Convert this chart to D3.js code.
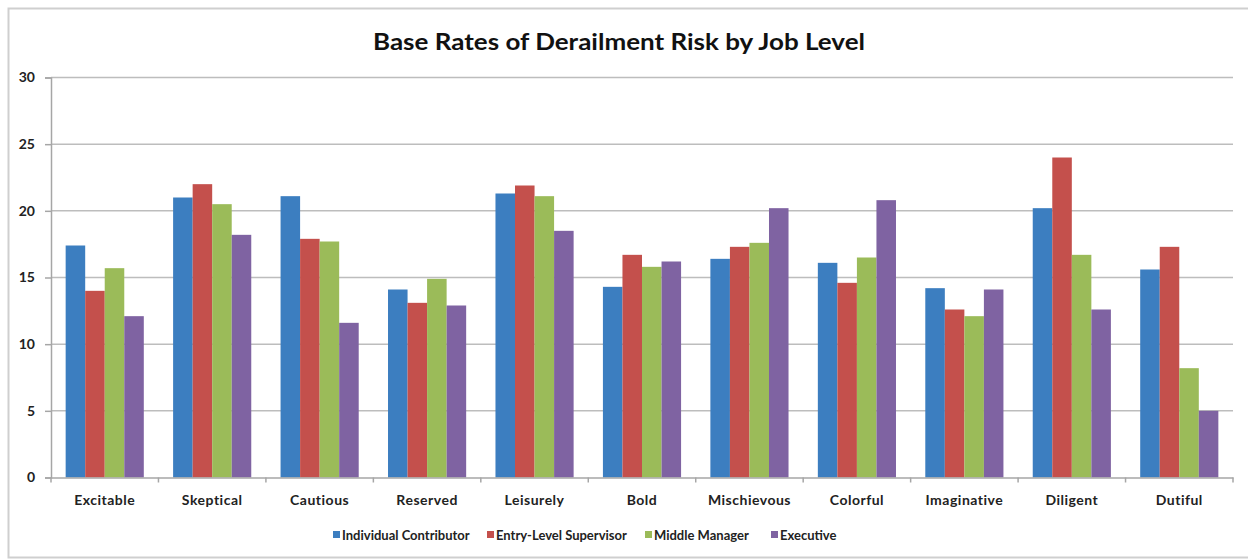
<!DOCTYPE html>
<html>
<head>
<meta charset="utf-8">
<script src="https://cdn.jsdelivr.net/npm/d3@7"></script>
<style>
  html, body { margin: 0; padding: 0; background: #fff; }
  svg { display: block; }
  text { font-family: Lato, "Open Sans", sans-serif; }
</style>
</head>
<body>
<svg id="chart" width="1248" height="559"></svg>
<script>
// Derailment categories along the x axis
const categories = ["Excitable", "Skeptical", "Cautious", "Reserved", "Leisurely", "Bold",
  "Mischievous", "Colorful", "Imaginative", "Diligent", "Dutiful"];

// Job levels (one bar per level in each group)
const seriesNames = ["Individual Contributor", "Entry-Level Supervisor", "Middle Manager", "Executive"];

// Base rates (%) for each job level, in category order
const individualContributor = [17.4, 21.0, 21.1, 14.1, 21.3, 14.3, 16.4, 16.1, 14.2, 20.2, 15.6];
const entryLevelSupervisor  = [14.0, 22.0, 17.9, 13.1, 21.9, 16.7, 17.3, 14.6, 12.6, 24.0, 17.3];
const middleManager         = [15.7, 20.5, 17.7, 14.9, 21.1, 15.8, 17.6, 16.5, 12.1, 16.7, 8.2];
const executive             = [12.1, 18.2, 11.6, 12.9, 18.5, 16.2, 20.2, 20.8, 14.1, 12.6, 5.0];

// Y axis ticks
const yTicks = [0, 5, 10, 15, 20, 25, 30];

const seriesValues = [individualContributor, entryLevelSupervisor, middleManager, executive];
const colors = ["#3C7EC0", "#C4504C", "#9BBB59", "#7F63A2"];

const svg = d3.select("#chart");

// Outer chart frame
svg.append("rect")
  .attr("x", 8.5).attr("y", 8.5)
  .attr("width", 1260).attr("height", 549)
  .attr("fill", "#fff")
  .attr("stroke", "#cfcfcf")
  .attr("stroke-width", 2);

const plot = { left: 51, right: 1233, top: 77.5, bottom: 477.5 };

const y = d3.scaleLinear().domain([0, 30]).range([plot.bottom, plot.top]);
const x0 = d3.scaleBand().domain(categories).range([plot.left, plot.right]).padding(0);
const x1 = d3.scaleBand().domain(seriesNames).range([0, x0.bandwidth()])
  .paddingInner(0).paddingOuter(0.75);

// Horizontal gridlines
svg.append("g")
  .selectAll("line")
  .data(yTicks.filter(t => t > 0))
  .join("line")
  .attr("x1", plot.left).attr("x2", plot.right)
  .attr("y1", d => y(d)).attr("y2", d => y(d))
  .attr("stroke", "#bdbdbd")
  .attr("stroke-width", 1.5);

// Bars
const groups = svg.append("g")
  .selectAll("g")
  .data(categories.map((c, i) => ({ c, vals: seriesValues.map((s, k) => ({ k, name: seriesNames[k], v: s[i] })) })))
  .join("g")
  .attr("transform", d => `translate(${x0(d.c)},0)`);

groups.selectAll("rect")
  .data(d => d.vals)
  .join("rect")
  .attr("x", d => x1(d.name))
  .attr("width", x1.bandwidth())
  .attr("y", d => y(d.v))
  .attr("height", d => y(0) - y(d.v))
  .attr("fill", d => colors[d.k]);

// Y axis
const yAxis = svg.append("g")
  .attr("transform", `translate(${plot.left},0)`)
  .call(d3.axisLeft(y).tickValues(yTicks).tickSize(6).tickPadding(10).tickFormat(d3.format("d")));
yAxis.select(".domain").attr("stroke", "#a6a6a6").attr("stroke-width", 1.5);
yAxis.selectAll(".tick line").attr("stroke", "#a6a6a6").attr("stroke-width", 1.5);
yAxis.selectAll(".tick text")
  .attr("fill", "#222")
  .style("font-size", "14px")
  .style("font-weight", "700");

// X axis: baseline with ticks between categories
const xAxis = svg.append("g")
  .attr("transform", `translate(0,${plot.bottom})`)
  .call(d3.axisBottom(x0).tickSize(0).tickPadding(18));
xAxis.select(".domain").attr("stroke", "#a6a6a6").attr("stroke-width", 1.5);
xAxis.selectAll(".tick text")
  .attr("fill", "#222")
  .style("font-size", "14px")
  .style("letter-spacing", "0.5px")
  .style("font-weight", "700");
xAxis.selectAll(".sep")
  .data(categories.map(c => x0(c)).concat([plot.right]))
  .join("line")
  .attr("class", "sep")
  .attr("x1", d => d).attr("x2", d => d)
  .attr("y1", 0).attr("y2", 5)
  .attr("stroke", "#a6a6a6")
  .attr("stroke-width", 1.5);

// Title
svg.append("text")
  .attr("x", 619).attr("y", 50)
  .attr("text-anchor", "middle")
  .attr("fill", "#111")
  .attr("textLength", 492)
  .attr("lengthAdjust", "spacingAndGlyphs")
  .style("font-size", "23px")
  .style("font-weight", "700")
  .text("Base Rates of Derailment Risk by Job Level");

// Legend
const legendX = [333, 487, 645, 771];
const legend = svg.append("g")
  .selectAll("g")
  .data(seriesNames)
  .join("g")
  .attr("transform", (d, i) => `translate(${legendX[i]},535)`);
legend.append("rect")
  .attr("x", 0).attr("y", -4).attr("width", 7).attr("height", 7)
  .attr("fill", (d, i) => colors[i]);
legend.append("text")
  .attr("x", 9).attr("y", 0)
  .attr("dy", "0.35em")
  .attr("fill", "#222")
  .style("font-size", "13px")
  .style("font-weight", "700")
  .text(d => d);
</script>
</body>
</html>
